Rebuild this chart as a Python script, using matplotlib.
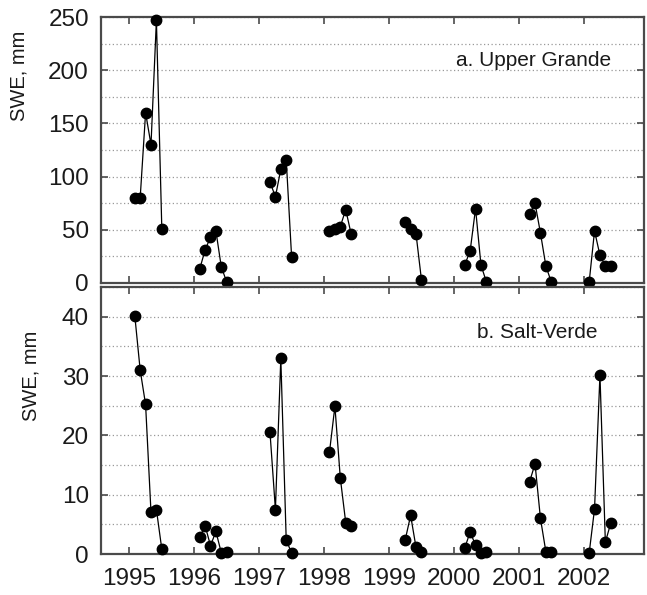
import matplotlib
matplotlib.use("Agg")
import numpy as np
from matplotlib import pyplot as plt
from matplotlib.ticker import MultipleLocator

plt.rcParams['font.family'] = ['Liberation Sans', 'DejaVu Sans']

years = [1995, 1996, 1997, 1998, 1999, 2000, 2001, 2002]
# month numbers of each observation, per year
months = {
    1995: [1, 2, 3, 4, 5, 6],
    1996: [1, 2, 3, 4, 5, 6],
    1997: [2, 3, 4, 5, 6],
    1998: [1, 2, 3, 4, 5],
    1999: [3, 4, 5, 6],
    2000: [2, 3, 4, 5, 6],
    2001: [2, 3, 4, 5, 6],
    2002: [1, 2, 3, 4, 5],
}
upper_grande = {
    1995: [80, 80, 160, 130, 247, 51],
    1996: [13, 31, 43, 49, 15, 1],
    1997: [95, 81, 107, 116, 24],
    1998: [49, 51, 53, 69, 46],
    1999: [57, 51, 46, 3],
    2000: [17, 30, 70, 17, 1],
    2001: [65, 75, 47, 16, 1],
    2002: [0.5, 49, 26, 16, 16],
}
salt_verde = {
    1995: [40.2, 31, 25.2, 7, 7.5, 0.8],
    1996: [2.8, 4.8, 1.4, 3.8, 0.2, 0.3],
    1997: [20.5, 7.5, 33, 2.3, 0.2],
    1998: [17.2, 24.9, 12.8, 5.3, 4.8],
    1999: [2.4, 6.5, 1.1, 0.3],
    2000: [1.0, 3.7, 1.5, 0.1, 0.3],
    2001: [12.2, 15.2, 6.0, 0.4, 0.3],
    2002: [0.1, 7.6, 30.2, 2.0, 5.2],
}

fig = plt.figure(figsize=(6.47, 5.95), dpi=100)
ax1 = fig.add_axes([0.1568, 0.5244, 0.8392, 0.447])
ax2 = fig.add_axes([0.1568, 0.0689, 0.8392, 0.4487])

spine_col = '#4a4a4a'
text_col = '#1a1a1a'

def draw(ax, data, ymax, major, minor):
    for yr in years:
        t = [yr + m / 12.0 for m in months[yr]]
        ax.plot(t, data[yr], color='black', lw=0.9, marker='o', ms=7.5,
                mfc='black', mec='black', clip_on=False, zorder=3)
    ax.set_xlim(1994.57, 2002.935)
    ax.set_ylim(0, ymax)
    ax.xaxis.set_major_locator(MultipleLocator(1))
    ax.yaxis.set_major_locator(MultipleLocator(major))
    ax.yaxis.set_minor_locator(MultipleLocator(minor))
    ax.grid(True, which='both', axis='y', color='#999999', ls=(0, (1, 2)), lw=0.9)
    ax.tick_params(which='major', direction='in', length=5, width=1.2,
                   top=True, right=True, color=spine_col, labelcolor=text_col,
                   labelsize=17.5, pad=9)
    ax.tick_params(which='minor', length=0)
    for s in ax.spines.values():
        s.set_color(spine_col)
        s.set_linewidth(1.6)
    ax.set_ylabel('SWE, mm', fontsize=14.5, color=text_col)

draw(ax1, upper_grande, 250, 50, 25)
draw(ax2, salt_verde, 45, 10, 5)
ax1.tick_params(labelbottom=False)
ax2.tick_params(axis='x', pad=10)

ax1.yaxis.set_label_coords(-0.134, 0.78)
ax2.yaxis.set_label_coords(-0.112, 0.667)

ax1.text(0.939, 0.838, 'a. Upper Grande', transform=ax1.transAxes,
         ha='right', va='center', fontsize=15, color=text_col)
ax2.text(0.913, 0.828, 'b. Salt-Verde', transform=ax2.transAxes,
         ha='right', va='center', fontsize=15, color=text_col)

fig.savefig('out.png', dpi=100)
